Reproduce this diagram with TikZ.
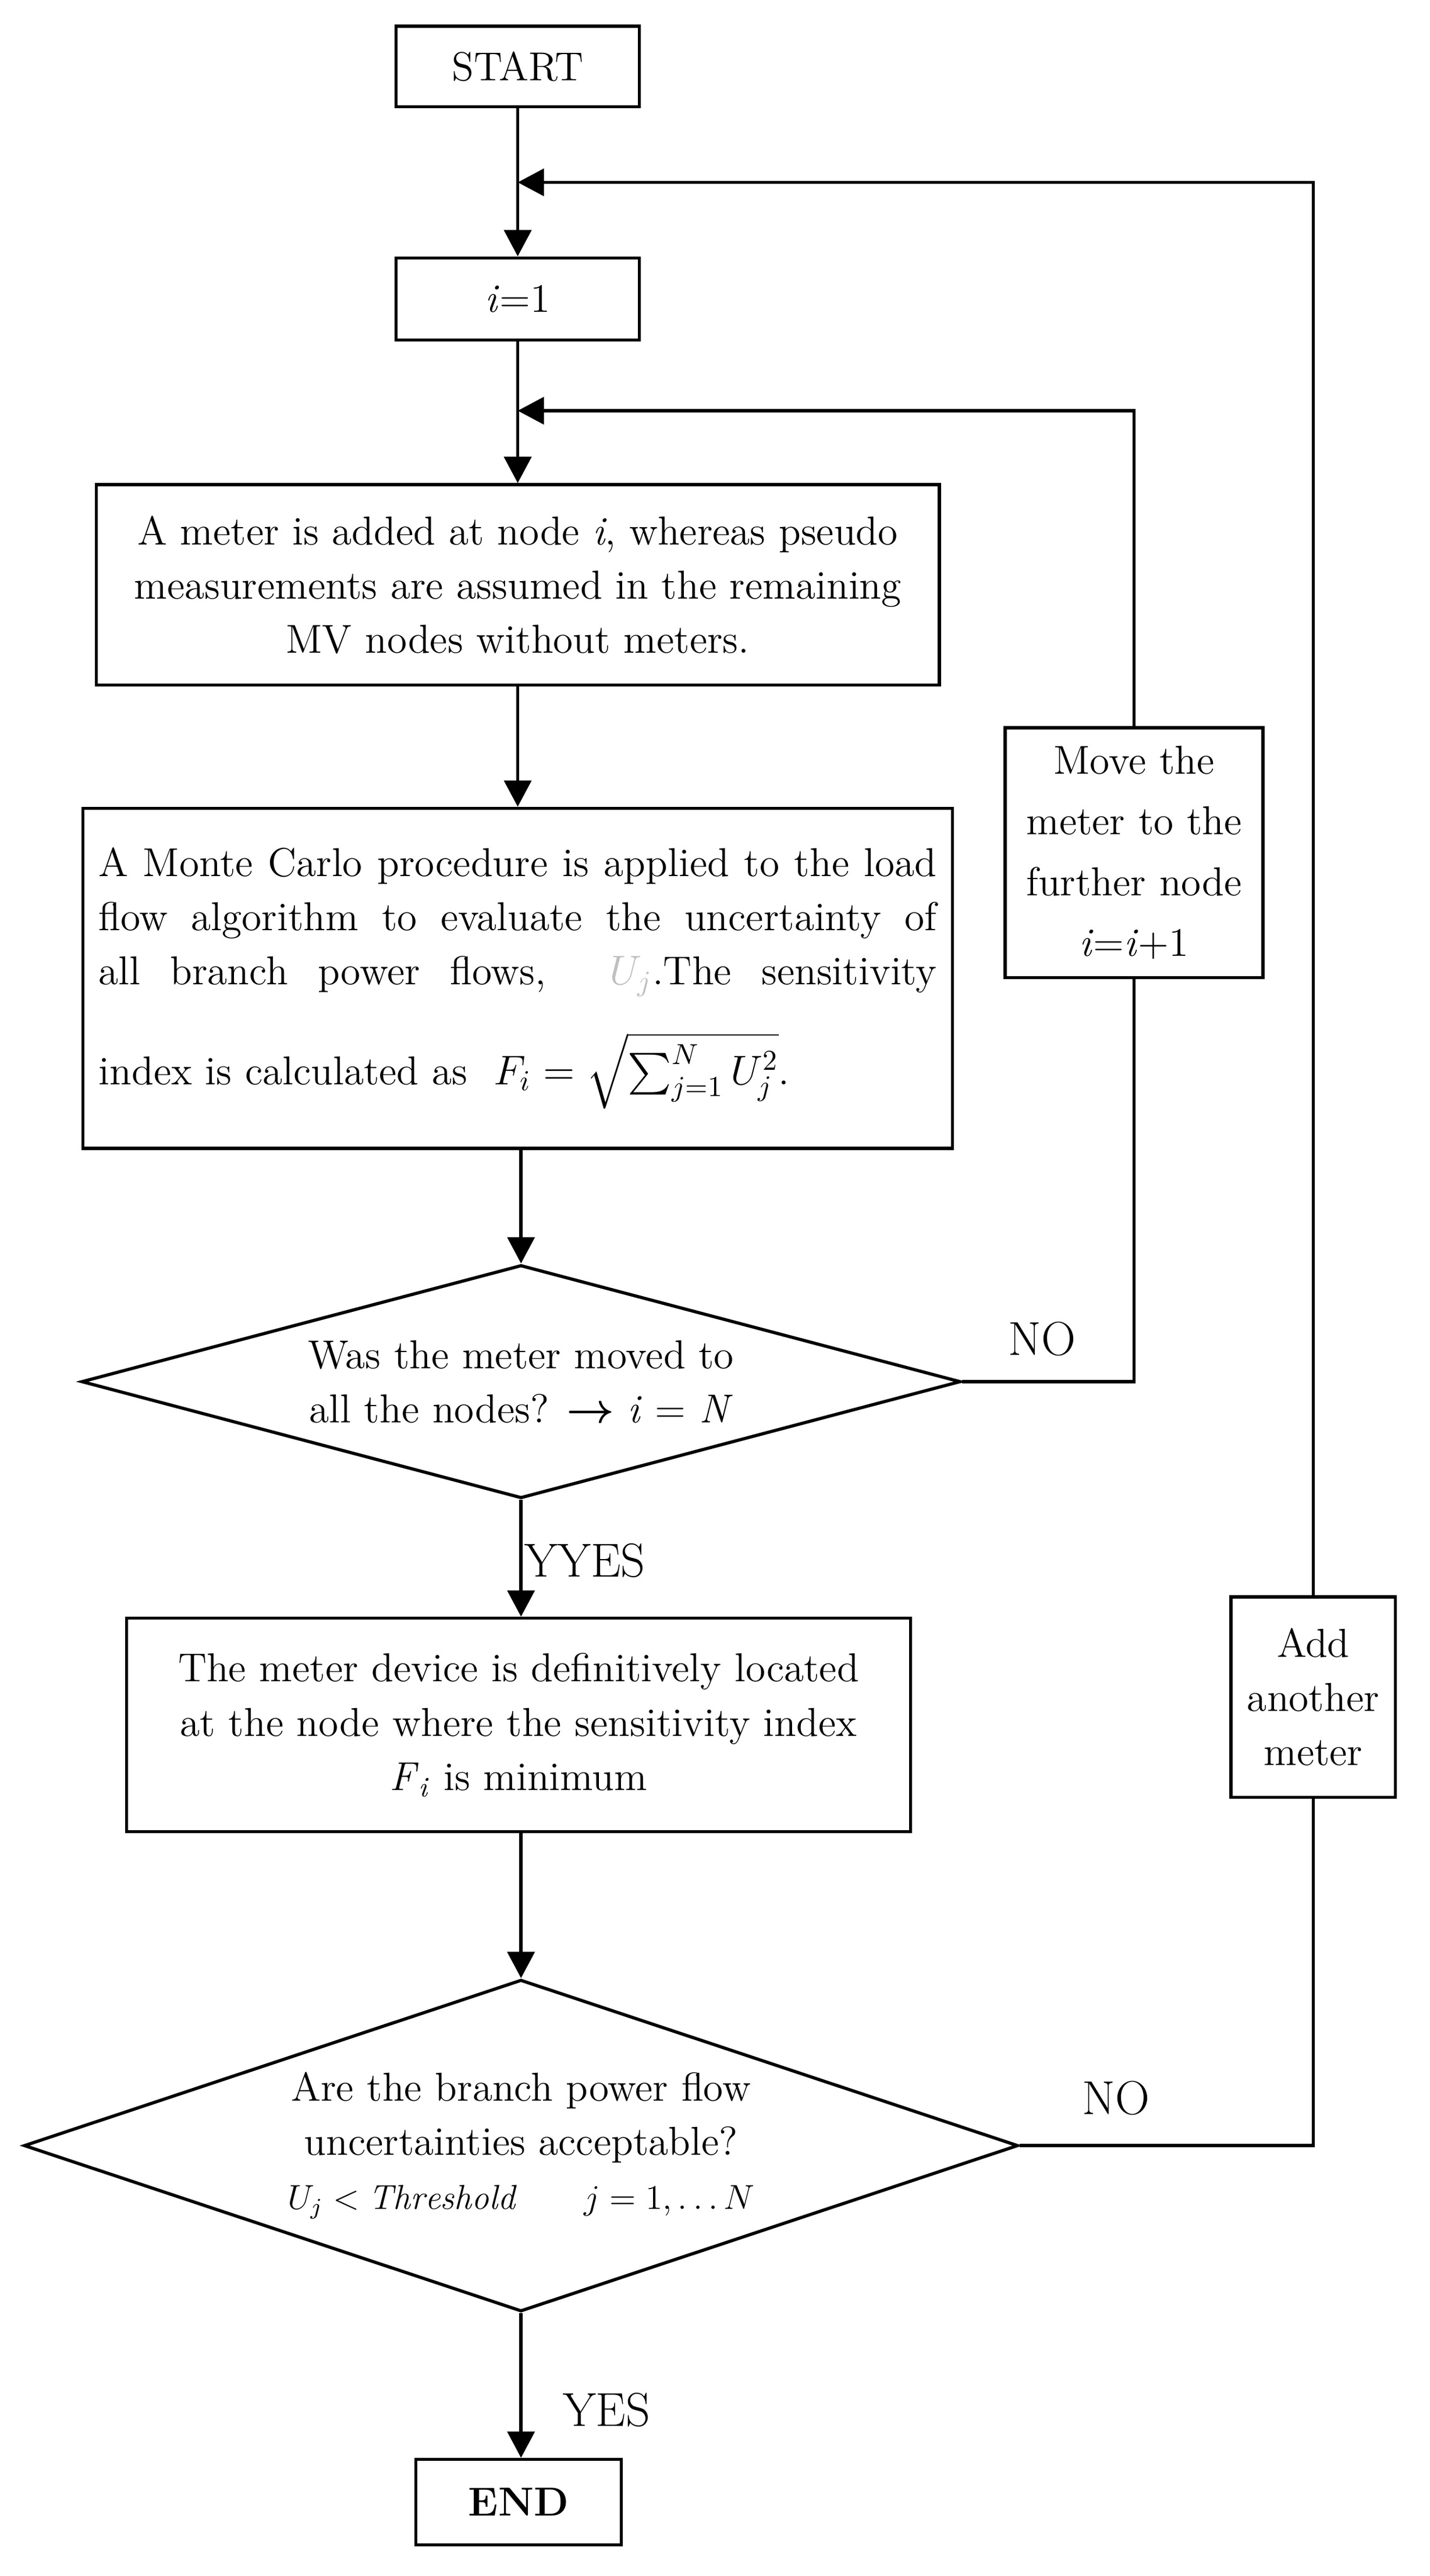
\documentclass[tikz,border=0pt]{standalone}
\usepackage{amsmath}
\usepackage{fontspec}
\usetikzlibrary{arrows.meta, positioning, shapes.geometric}

\begin{document}
\begin{tikzpicture}[x=0.02cm, y=-0.02cm,
    box/.style={draw, rectangle, line width=1.1pt, align=center, inner sep=0pt, font=\fontsize{14}{18.8}\selectfont},
    dec/.style={draw, diamond, line width=1.1pt, align=center, inner sep=0pt, font=\fontsize{14}{18.8}\selectfont},
    lbl/.style={inner sep=0pt, font=\fontsize{16.5}{20}\selectfont},
    arr/.style={-{Triangle[length=3.2mm, width=3.3mm]}, line width=1.1pt},
    line/.style={line width=1.1pt}]
    \useasboundingbox (0,0) rectangle (870,1568);
    % 主流程
    \node[box, minimum width=2.96cm, minimum height=0.98cm] (start) at (315,40.5) {START};
    \node[box, minimum width=2.96cm, minimum height=1.0cm] (init) at (315,182) {\textit{i}=1};
    \node[box, minimum width=10.26cm, minimum height=2.44cm] (addm) at (315,356)
        {A meter is added at node \textit{i}, whereas pseudo\\ measurements are assumed in the remaining\\ MV nodes without meters.};
    \node[box, align=left, inner xsep=0.19cm, minimum height=4.14cm] (mc) at (315,595.5)
        {\makebox[10.2cm][s]{A Monte Carlo procedure is applied to the load}\\
         \makebox[10.2cm][s]{flow algorithm to evaluate the uncertainty of}\\
         \makebox[10.2cm][s]{all branch power flows, \ \textcolor{gray!50}{$U_j$}.The sensitivity}\\[0.4cm]
         index is calculated as \ $F_i = \sqrt{\sum_{j=1}^{N} U_j^{2}}$.\rule[-0.3cm]{0pt}{0pt}};
    \node[dec, aspect=3.77, minimum width=10.7cm, minimum height=2.84cm] (d1) at (317,841)
        {Was the meter moved to\\ all the nodes? $\boldsymbol{\rightarrow}$ \textit{i} = \textit{N}};
    \node[box, minimum width=9.54cm, minimum height=2.6cm] (dev) at (315.5,1050)
        {The meter device is definitively located\\ at the node where the sensitivity index\\ \textit{F}\textsubscript{\textit{i}} is minimum};
    \node[dec, aspect=3, minimum width=12.1cm, minimum height=4.04cm] (d2) at (317,1306)
        {Are the branch power flow\\ uncertainties acceptable?\\ {\fontsize{12}{14}\selectfont $U_j < \mathit{Threshold} \qquad j = 1, \ldots N$}};
    \node[box, minimum width=2.5cm, minimum height=1.04cm] (end) at (315.5,1523) {\textbf{END}};
    % 右侧回路
    \node[box, minimum width=3.14cm, minimum height=3.04cm, font=\fontsize{14}{21}\selectfont] (move) at (690,519)
        {Move the\\ meter to the\\ further node\\ \textit{i}=\textit{i}+1};
    \node[box, minimum width=2.0cm, minimum height=2.44cm] (add) at (799,1033) {Add\\ another\\ meter};
    \coordinate (back1) at (315,250);
    \coordinate (back2) at (315,111);
    % 标签
    \node[lbl] (no1) at (634,815) {NO};
    \node[lbl, anchor=west] (yes1) at (319,950) {YYES};
    \node[lbl] (no2) at (679,1277) {NO};
    \node[lbl] (yes2) at (369,1467) {YES};
    % 箭头
    \draw[arr] (start.south) -- (init.north);
    \draw[arr] (init.south) -- (addm.north);
    \draw[arr] (addm.south) -- (mc.north);
    \draw[arr] (mc.south -| d1.north) -- (d1.north);
    \draw[arr] (d1.south) -- (d1.south |- dev.north);
    \draw[arr] (dev.south -| d2.north) -- (d2.north);
    \draw[arr] (d2.south) -- (d2.south |- end.north);
    \draw[line] (d1.east) -| (move.south);
    \draw[arr] (move.north) |- (back1);
    \draw[line] (d2.east) -| (add.south);
    \draw[arr] (add.north) |- (back2);
\end{tikzpicture}
\end{document}
